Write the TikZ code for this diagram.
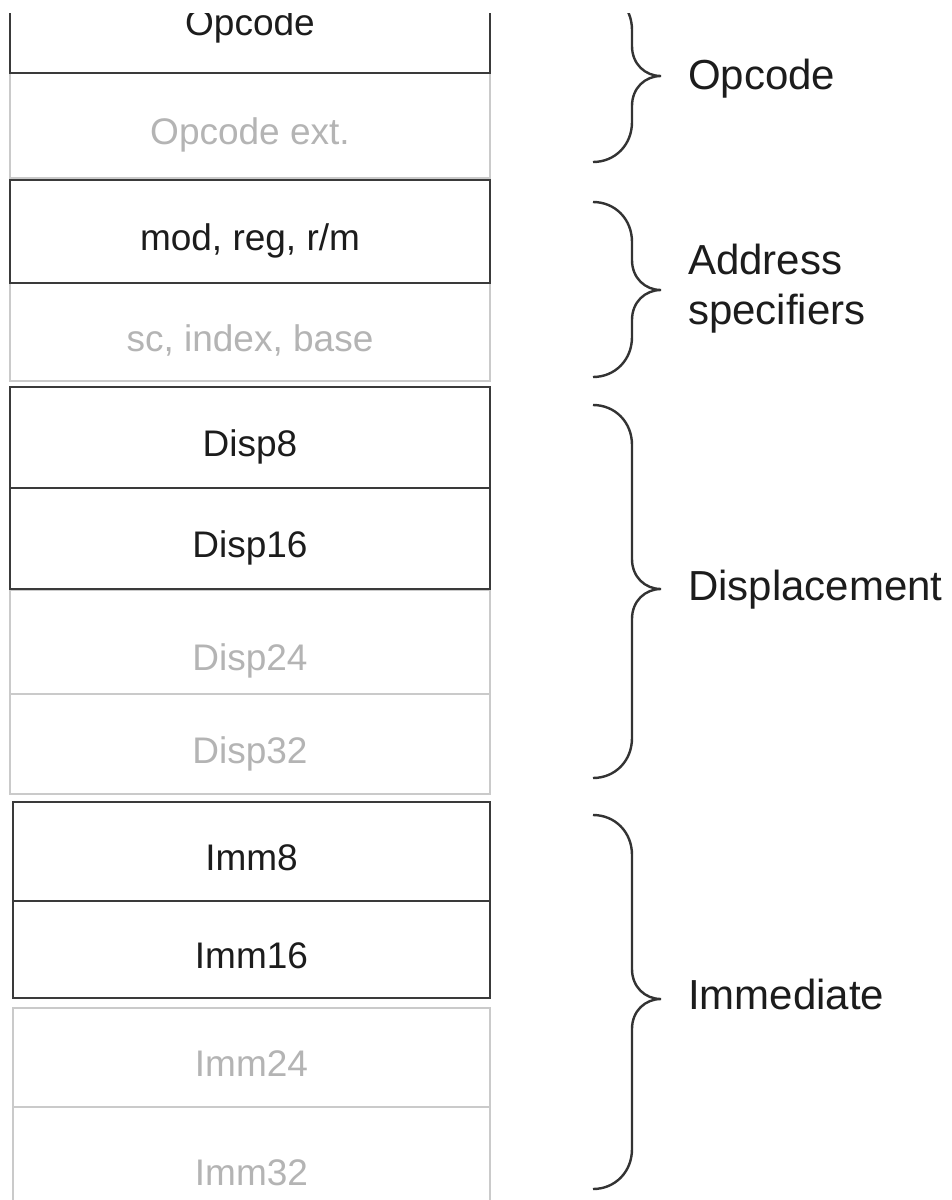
\documentclass[tikz,border=0pt]{standalone}
\usepackage{fontspec}
\setmainfont{Liberation Sans}
\definecolor{boxdark}{HTML}{3A3A3A}
\definecolor{boxlight}{HTML}{CACACA}
\definecolor{textdark}{HTML}{1C1C1C}
\definecolor{textlight}{HTML}{B4B4B4}
\definecolor{bracecol}{HTML}{333333}
\newcommand{\groupbrace}[3]{%
  \draw[bracestyle] (593,#1) .. controls (615,#1) and (632,#1+17) .. (632,#1+40)
    -- (632,#2-30) .. controls (632,#2-12) and (645,#2) .. (661,#2)
    .. controls (645,#2) and (632,#2+12) .. (632,#2+30)
    -- (632,#3-40) .. controls (632,#3-17) and (615,#3) .. (593,#3);}
\begin{document}
\begin{tikzpicture}[x=1pt,y=-1pt,
  boxbase/.style={rectangle, inner sep=0pt, minimum width=480pt,
    text height=38pt, text depth=0pt, font=\fontsize{37}{44}\selectfont},
  darkbox/.style={boxbase, draw=boxdark, line width=2.7pt, text=textdark},
  lightbox/.style={boxbase, draw=boxlight, line width=2.4pt, text=textlight},
  bracestyle/.style={draw=bracecol, line width=2.4pt},
  grouplabel/.style={inner sep=0pt, font=\fontsize{42}{50}\selectfont,
    text=textdark, align=left}]
\useasboundingbox (0,0) rectangle (951,1200);
\fill[white] (0,0) rectangle (951,1200);
\clip (0,13) rectangle (951,1200);
% light (optional) fields
\node[lightbox, minimum height=105pt] (opcx) at (250,125.5) {Opcode ext.};
\node[lightbox, minimum height=98pt] (sib) at (250,332) {sc, index, base};
\node[lightbox, minimum height=104pt, text height=56pt] (d24) at (250,642) {Disp24};
\node[lightbox, minimum height=100pt] (d32) at (250,744) {Disp32};
\node[lightbox, minimum height=99pt, minimum width=477pt] (i24) at (251.5,1057.5) {Imm24};
\node[lightbox, minimum height=118pt, minimum width=477pt] (i32) at (251.5,1166) {Imm32};
% dark fields
\node[darkbox, minimum height=114pt] (opc) at (250,16) {Opcode};
\node[darkbox, minimum height=103pt] (modrm) at (250,231.5) {mod, reg, r/m};
\node[darkbox, minimum height=101pt] (d8) at (250,437.5) {Disp8};
\node[darkbox, minimum height=101pt] (d16) at (250,538.5) {Disp16};
\node[darkbox, minimum height=99pt, minimum width=477pt] (i8) at (251.5,851.5) {Imm8};
\node[darkbox, minimum height=97pt, minimum width=477pt] (i16) at (251.5,949.5) {Imm16};
% braces
\groupbrace{-10}{76}{162}
\groupbrace{202}{290}{377}
\groupbrace{405}{589}{778}
\groupbrace{815}{999}{1189}
% group labels
\node[grouplabel, anchor=base west] (lop) at (688,89) {Opcode};
\node[grouplabel, anchor=west] (laddr) at (688,289) {Address\\specifiers};
\node[grouplabel, anchor=base west] (ldisp) at (688,600) {Displacement};
\node[grouplabel, anchor=base west] (limm) at (688,1009) {Immediate};
\end{tikzpicture}
\end{document}
